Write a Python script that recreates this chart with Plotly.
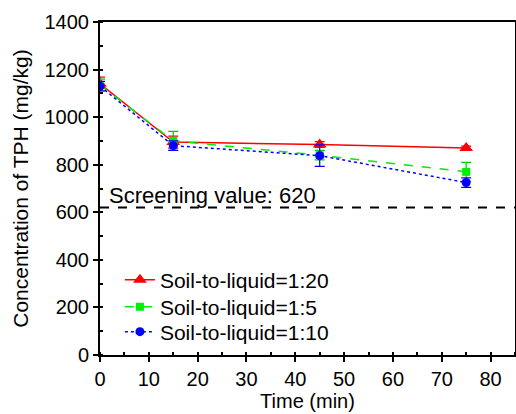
import plotly.graph_objects as go

time = [0, 15, 45, 75]
red_vals = [1140, 895, 885, 870]
red_err = [28, 25, 12, 8]
green_vals = [1135, 900, 840, 770]
green_err = [25, 40, 20, 40]
blue_vals = [1130, 880, 838, 725]
blue_err = [20, 20, 45, 20]
screening = 620
names = ["Soil-to-liquid=1:20", "Soil-to-liquid=1:5", "Soil-to-liquid=1:10"]

font = "Liberation Sans, Arial, sans-serif"
fig = go.Figure()

fig.add_trace(go.Scatter(
    x=time, y=red_vals, name=names[0], mode="lines+markers", legend="legend",
    line=dict(color="#ff0000", width=1.5),
    marker=dict(symbol="triangle-up", size=12, color="#ff0000"),
    error_y=dict(type="data", array=red_err, color="#ff0000", thickness=1.2, width=5),
))
fig.add_trace(go.Scatter(
    x=time, y=green_vals, name=names[1], mode="lines+markers", legend="legend2",
    line=dict(color="#00ee00", width=1.5, dash="dash"),
    marker=dict(symbol="square", size=8, color="#00ee00"),
    error_y=dict(type="data", array=green_err, color="#00cc00", thickness=1.2, width=5),
))
fig.add_trace(go.Scatter(
    x=time, y=blue_vals, name=names[2], mode="lines+markers", legend="legend3",
    line=dict(color="#0000ff", width=1.5, dash="dot"),
    marker=dict(symbol="circle", size=9, color="#0000ff"),
    error_y=dict(type="data", array=blue_err, color="#0000ff", thickness=1.2, width=5),
))

fig.add_hline(y=screening, line=dict(color="black", width=2, dash="dash"))
fig.add_annotation(x=1.5, y=screening, xref="x", yref="y", text="Screening value: " + str(screening),
                   showarrow=False, xanchor="left", yanchor="bottom",
                   font=dict(family=font, size=22, color="black"), yshift=-2)

axis_common = dict(showline=True, linecolor="black", linewidth=2, mirror=True,
                   ticks="outside", ticklen=5, tickwidth=1.5, tickcolor="black",
                   showgrid=False, zeroline=False,
                   tickfont=dict(family=font, size=20, color="black"))

fig.update_xaxes(range=[0, 85], dtick=10, title=dict(text="Time (min)", font=dict(family=font, size=20, color="black"), standoff=2),
                 minor=dict(dtick=5, ticks="inside", ticklen=3, tickcolor="black"), **axis_common)
fig.update_yaxes(range=[0, 1400], dtick=200, title=dict(text="Concentration of TPH (mg/kg)", font=dict(family=font, size=21, color="black"), standoff=10),
                 minor=dict(dtick=100, ticks="inside", ticklen=3, tickcolor="black"), **axis_common)

leg_common = dict(x=0.048, xanchor="left", yanchor="middle",
                  font=dict(family=font, size=21, color="black"),
                  bgcolor="rgba(0,0,0,0)", borderwidth=0)
fig.update_layout(
    width=516, height=414,
    margin=dict(l=100, r=1, t=22, b=59, autoexpand=False),
    plot_bgcolor="white", paper_bgcolor="white",
    showlegend=True,
    legend=dict(y=0.225, **leg_common),
    legend2=dict(y=0.144, **leg_common),
    legend3=dict(y=0.069, **leg_common),
)

fig.write_html("out.html", config={"displayModeBar": False},
               post_script="document.body.style.margin='0';")
